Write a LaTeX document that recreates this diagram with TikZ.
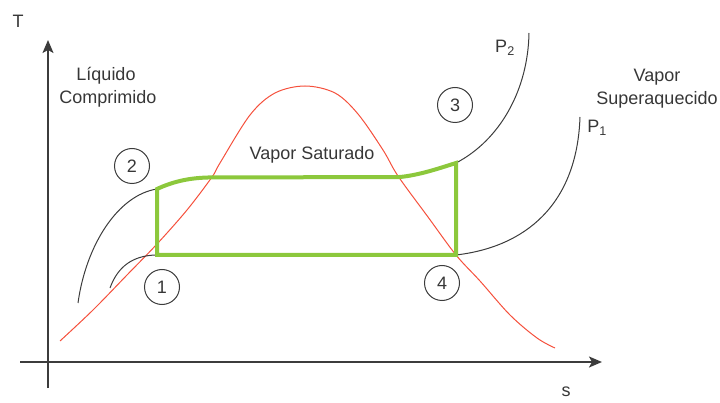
\documentclass[tikz,border=0pt]{standalone}
\usepackage{fontspec}
\setmainfont{Liberation Sans}
\usetikzlibrary{arrows.meta}
\definecolor{txt}{RGB}{55,55,55}
\definecolor{ln}{RGB}{60,60,60}
\definecolor{dome}{RGB}{245,80,60}
\definecolor{cyc}{RGB}{140,200,60}
\tikzset{
  lbl/.style={text=txt,font=\fontsize{18}{22}\selectfont,inner sep=0pt},
  state/.style={draw=ln,line width=1pt,circle,minimum size=35pt,inner sep=0pt,text=txt,font=\fontsize{18}{22}\selectfont},
  axis/.style={draw=ln,line width=1.8pt,-{Stealth[length=13pt,width=11pt,inset=3pt]}},
  isobar/.style={draw=ln,line width=1pt},
  satdome/.style={draw=dome,line width=1pt},
  cycle line/.style={draw=cyc,line width=4pt,line join=miter}
}
\begin{document}
\begin{tikzpicture}[x=1pt,y=-1pt]
\useasboundingbox (0,0) rectangle (720,403);
% axes
\coordinate (ybot) at (48,388);
\coordinate (ytop) at (48,40);
\coordinate (xl) at (20,362);
\coordinate (xr) at (602,362);
\draw[axis] (ybot) -- (ytop);
\draw[axis] (xl) -- (xr);
\node[lbl] (T) at (18,21) {T};
\node[lbl] (s) at (566,392) {s};
% saturation dome
\draw[satdome] plot[smooth,tension=0.55] coordinates {(60,341) (93,310) (127,275) (157,244) (187,210) (212,177) (220,163) (250,115) (275,93) (305,86) (335,93) (358,114) (383,150) (398,176) (428,217) (456,255) (480,281) (510,315) (537,338) (555,348)};
% isobars
\coordinate (a2) at (78,303);
\coordinate (s2) at (157,189);
\coordinate (s3) at (456,163);
\coordinate (b2) at (529,33);
\coordinate (a1) at (110,288);
\coordinate (s1) at (155,255);
\coordinate (s4) at (456,255);
\coordinate (b1) at (580,117);
\draw[isobar] (a2) .. controls (86,245) and (118,195) .. (s2);
\draw[isobar] (s3) .. controls (500,140) and (528,90) .. (b2);
\draw[isobar] (a1) .. controls (118,266) and (133,256) .. (s1);
\draw[isobar] (s4) .. controls (525,247) and (577,205) .. (b1);
% cycle
\draw[cycle line] (157,255) -- (157,189) .. controls (172,182) and (188,178) .. (208,177.5) -- (400,177) .. controls (420,175) and (440,168) .. (456,163) -- (456,255) -- cycle;
% labels
\node[lbl] (liq1) at (106,76) {Líquido};
\node[lbl] (liq2) at (108,99) {Comprimido};
\node[lbl] (vs) at (312,155) {Vapor Saturado};
\node[lbl] (sup1) at (657,77) {Vapor};
\node[lbl] (sup2) at (657,100) {Superaquecido};
\node[lbl] (p2) at (505,48) {P\textsubscript{2}};
\node[lbl] (p1) at (597,128) {P\textsubscript{1}};
% states
\node[state] (n1) at (162,287) {1};
\node[state] (n2) at (132,166) {2};
\node[state] (n3) at (455,105) {3};
\node[state] (n4) at (442,283) {4};
\end{tikzpicture}
\end{document}
